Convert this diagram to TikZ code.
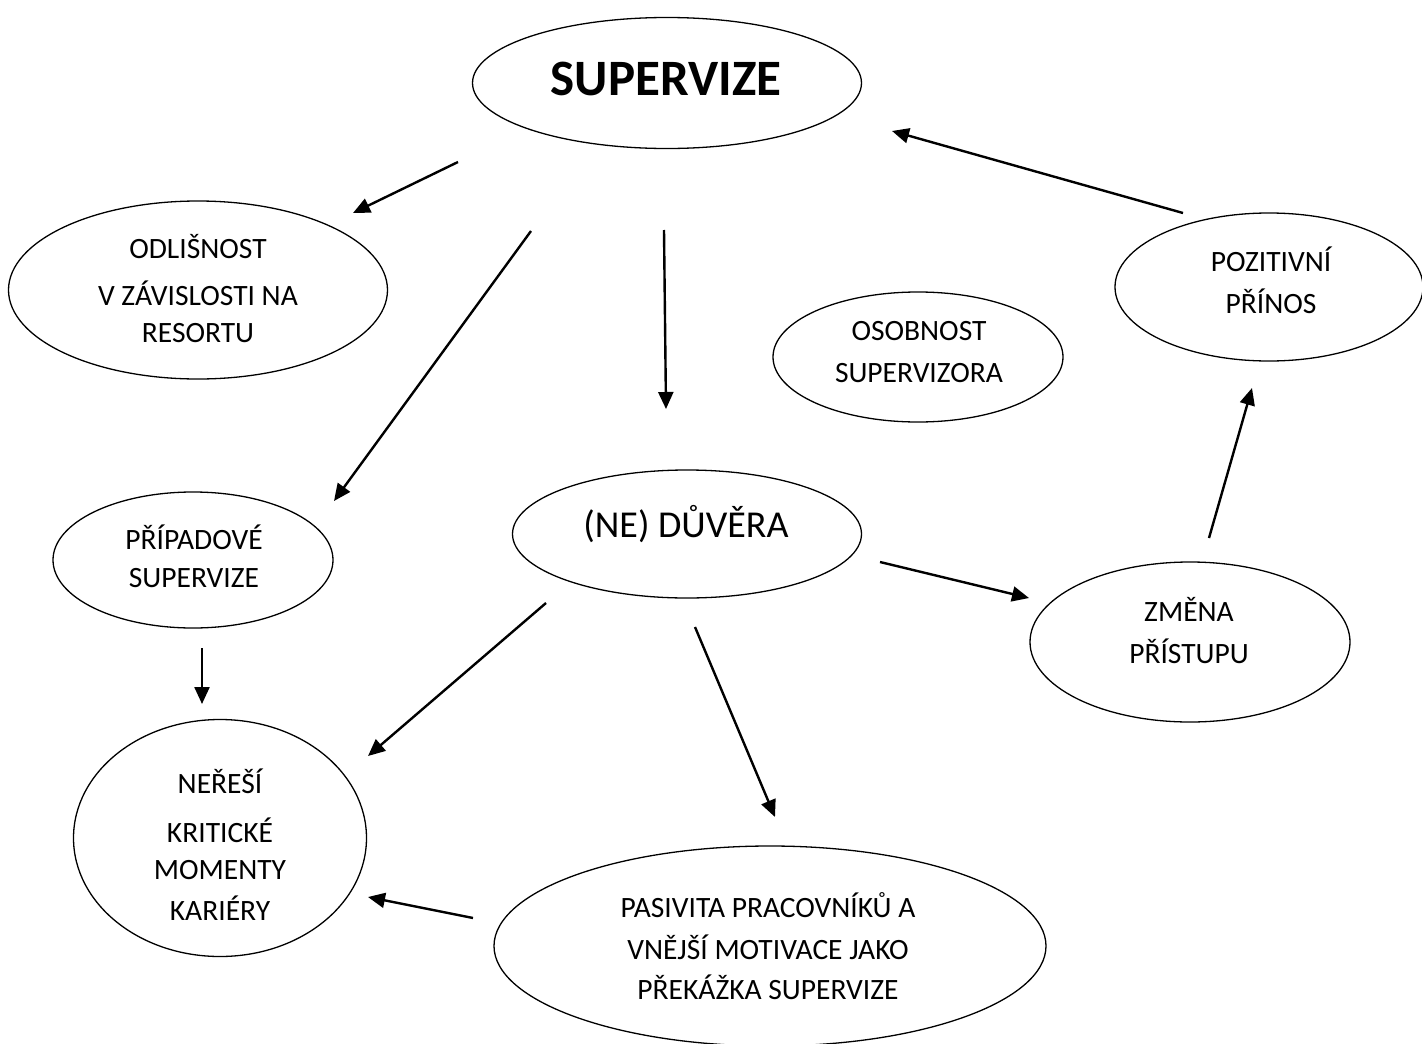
\documentclass[tikz,border=0pt]{standalone}
\usepackage{fontspec}
\setmainfont{Carlito}
\usetikzlibrary{shapes.geometric,arrows.meta}
\begin{document}
\begin{tikzpicture}[x=1pt,y=-1pt,
  oval/.style={ellipse, draw, line width=1.3pt, inner sep=0pt},
  arr/.style={line width=2.4pt, -{Triangle[length=17pt,width=15pt]}},
  txt/.style={anchor=base, inner sep=0pt, font=\fontsize{29.5}{42}\selectfont},
  bigtxt/.style={anchor=base, inner sep=0pt, font=\fontsize{51}{56}\selectfont\bfseries},
  midtxt/.style={anchor=base, inner sep=0pt, font=\fontsize{38}{44}\selectfont}]
\useasboundingbox (0,0) rectangle (1422,1044);
\fill[white] (0,0) rectangle (1422,1044);
% ellipses
\node[oval, minimum width=389pt, minimum height=131pt] (sup) at (667,83) {};
\node[oval, minimum width=379pt, minimum height=178pt] (odl) at (198,290) {};
\node[oval, minimum width=290pt, minimum height=130pt] (oso) at (918,357) {};
\node[oval, minimum width=308pt, minimum height=148pt] (poz) at (1269,287) {};
\node[oval, minimum width=280pt, minimum height=136pt] (pri) at (193,560) {};
\node[oval, minimum width=349pt, minimum height=128pt] (due) at (687,534) {};
\node[oval, minimum width=320pt, minimum height=160pt] (zme) at (1190,642) {};
\node[oval, minimum width=293pt, minimum height=237pt] (ner) at (220,838) {};
\node[oval, minimum width=552pt, minimum height=200pt] (pas) at (770,946) {};
% texts
\node[bigtxt] (supt) at (666,95) {SUPERVIZE};
\node[txt] (odlt) at (198,258) {\begin{tabular}[t]{@{}c@{}}ODLIŠNOST\\[5pt]V ZÁVISLOSTI NA\\[-5pt]RESORTU\end{tabular}};
\node[txt] (osot) at (919,340) {\begin{tabular}[t]{@{}c@{}}OSOBNOST\\SUPERVIZORA\end{tabular}};
\node[txt] (pozt) at (1271,271) {\begin{tabular}[t]{@{}c@{}}POZITIVNÍ\\PŘÍNOS\end{tabular}};
\node[txt] (prit) at (194,549) {\begin{tabular}[t]{@{}c@{}}PŘÍPADOVÉ\\[-4pt]SUPERVIZE\end{tabular}};
\node[midtxt] (duet) at (686,537) {(NE) DŮVĚRA};
\node[txt] (zmet) at (1189,621) {\begin{tabular}[t]{@{}c@{}}ZMĚNA\\PŘÍSTUPU\end{tabular}};
\node[txt] (nert) at (220,793) {\begin{tabular}[t]{@{}c@{}}NEŘEŠÍ\\[7pt]KRITICKÉ\\[-5pt]MOMENTY\\[-1pt]KARIÉRY\end{tabular}};
\node[txt] (past) at (768,917) {\begin{tabular}[t]{@{}c@{}}PASIVITA PRACOVNÍKŮ A\\VNĚJŠÍ MOTIVACE JAKO\\[-2pt]PŘEKÁŽKA SUPERVIZE\end{tabular}};
% arrow ends
\coordinate (a1s) at (458,162); \coordinate (a1e) at (353,213);
\coordinate (a2s) at (531,231); \coordinate (a2e) at (334,501);
\coordinate (a3s) at (664,230); \coordinate (a3e) at (666,409);
\coordinate (a4s) at (1183,213); \coordinate (a4e) at (892,131);
\coordinate (a5s) at (1209,538); \coordinate (a5e) at (1252,388);
\coordinate (a6s) at (880,562); \coordinate (a6e) at (1029,598);
\coordinate (a7s) at (202,648); \coordinate (a7e) at (202,704);
\coordinate (a8s) at (546,603); \coordinate (a8e) at (368,756);
\coordinate (a9s) at (695,627); \coordinate (a9e) at (775,817);
\coordinate (a10s) at (473,918); \coordinate (a10e) at (368,897);
\foreach \i in {1,...,10} \draw[arr] (a\i s) -- (a\i e);
\end{tikzpicture}
\end{document}
